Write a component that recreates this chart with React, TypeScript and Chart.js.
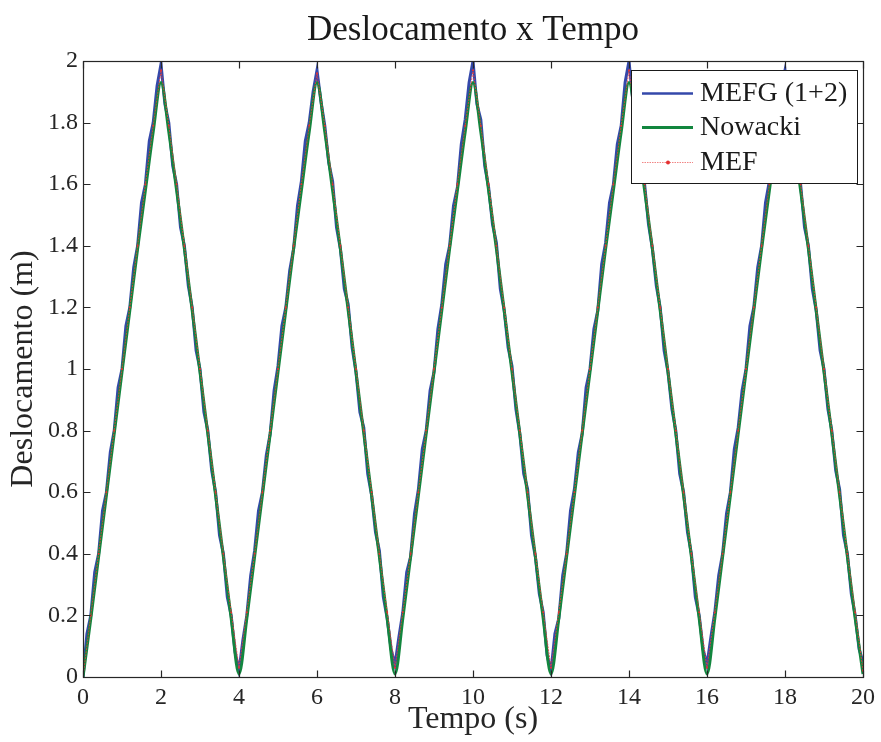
import { useEffect, useRef } from 'react';
import { Chart, registerables } from 'chart.js';

Chart.register(...registerables);

const TITLE = 'Deslocamento x Tempo';
const X_LABEL = 'Tempo (s)';
const Y_LABEL = 'Deslocamento (m)';
const X_TICKS = [0, 2, 4, 6, 8, 10, 12, 14, 16, 18, 20];
const Y_TICKS = [0, 0.2, 0.4, 0.6, 0.8, 1, 1.2, 1.4, 1.6, 1.8, 2];
const SERIES_NAMES = ['MEFG (1+2)', 'Nowacki', 'MEF'];

// MEFG (1+2): sampled every 0.1 s
const MEFG_STEP = 0.1;
const MEFG = [
  0.00,
  0.14, 0.20, 0.34, 0.40, 0.54, 0.60, 0.73, 0.80, 0.94, 1.00, 1.14, 1.20, 1.33, 1.40, 1.54, 1.60, 1.74, 1.80, 1.92, 1.99,
  1.86, 1.80, 1.66, 1.60, 1.46, 1.40, 1.27, 1.20, 1.06, 1.00, 0.86, 0.80, 0.67, 0.60, 0.46, 0.40, 0.26, 0.20, 0.08, 0.02,
  0.12, 0.20, 0.33, 0.41, 0.54, 0.60, 0.72, 0.79, 0.93, 1.01, 1.14, 1.20, 1.32, 1.39, 1.53, 1.61, 1.74, 1.80, 1.90, 1.97,
  1.87, 1.79, 1.67, 1.61, 1.46, 1.39, 1.26, 1.21, 1.07, 0.99, 0.86, 0.81, 0.66, 0.59, 0.47, 0.41, 0.26, 0.19, 0.09, 0.04,
  0.13, 0.21, 0.34, 0.39, 0.53, 0.61, 0.74, 0.80, 0.93, 0.99, 1.13, 1.21, 1.34, 1.40, 1.53, 1.59, 1.73, 1.81, 1.93, 2.00,
  1.86, 1.81, 1.66, 1.59, 1.47, 1.41, 1.26, 1.19, 1.07, 1.01, 0.87, 0.79, 0.66, 0.61, 0.46, 0.39, 0.27, 0.21, 0.07, 0.02,
  0.14, 0.19, 0.33, 0.40, 0.54, 0.61, 0.73, 0.79, 0.94, 1.00, 1.13, 1.19, 1.34, 1.41, 1.54, 1.60, 1.73, 1.79, 1.93, 2.00,
  1.87, 1.80, 1.66, 1.60, 1.47, 1.39, 1.27, 1.20, 1.06, 0.99, 0.87, 0.80, 0.66, 0.60, 0.47, 0.40, 0.26, 0.20, 0.09, 0.04,
  0.13, 0.21, 0.33, 0.40, 0.53, 0.60, 0.74, 0.81, 0.93, 1.00, 1.14, 1.20, 1.33, 1.40, 1.54, 1.61, 1.73, 1.80, 1.91, 1.97,
  1.86, 1.80, 1.67, 1.60, 1.46, 1.40, 1.26, 1.19, 1.06, 1.00, 0.87, 0.80, 0.67, 0.61, 0.46, 0.40, 0.27, 0.20, 0.09, 0.05,
];

// Nowacki: sampled every 0.2 s
const NOWACKI_STEP = 0.2;
const NOWACKI = [
  0.00,
  0.19, 0.39, 0.59, 0.79, 0.99, 1.19, 1.39, 1.58, 1.77, 1.93,
  1.77, 1.58, 1.39, 1.19, 0.99, 0.79, 0.59, 0.39, 0.19, 0.01,
  0.19, 0.39, 0.59, 0.79, 0.99, 1.19, 1.39, 1.58, 1.77, 1.93,
  1.77, 1.58, 1.39, 1.19, 0.99, 0.79, 0.59, 0.39, 0.19, 0.01,
  0.19, 0.39, 0.59, 0.79, 0.99, 1.19, 1.39, 1.58, 1.77, 1.93,
  1.77, 1.58, 1.39, 1.19, 0.99, 0.79, 0.59, 0.39, 0.19, 0.01,
  0.19, 0.39, 0.59, 0.79, 0.99, 1.19, 1.39, 1.58, 1.77, 1.93,
  1.77, 1.58, 1.39, 1.19, 0.99, 0.79, 0.59, 0.39, 0.19, 0.01,
  0.19, 0.39, 0.59, 0.79, 0.99, 1.19, 1.39, 1.58, 1.77, 1.93,
  1.77, 1.58, 1.39, 1.19, 0.99, 0.79, 0.59, 0.39, 0.19, 0.01,
];

// MEF: sampled every 0.2 s
const MEF_STEP = 0.2;
const MEF = [
  0.00,
  0.20, 0.40, 0.60, 0.80, 1.00, 1.20, 1.40, 1.60, 1.79, 1.97,
  1.79, 1.60, 1.40, 1.20, 1.00, 0.80, 0.60, 0.40, 0.21, 0.03,
  0.21, 0.40, 0.60, 0.80, 1.00, 1.20, 1.40, 1.60, 1.79, 1.96,
  1.79, 1.60, 1.40, 1.20, 1.00, 0.80, 0.60, 0.40, 0.21, 0.03,
  0.21, 0.40, 0.60, 0.80, 1.00, 1.20, 1.40, 1.60, 1.79, 1.97,
  1.79, 1.60, 1.40, 1.20, 1.00, 0.80, 0.60, 0.40, 0.21, 0.03,
  0.21, 0.40, 0.60, 0.80, 1.00, 1.20, 1.40, 1.60, 1.79, 1.97,
  1.79, 1.60, 1.40, 1.20, 1.00, 0.80, 0.60, 0.40, 0.21, 0.03,
  0.21, 0.40, 0.60, 0.80, 1.00, 1.20, 1.40, 1.60, 1.79, 1.96,
  1.79, 1.60, 1.40, 1.20, 1.00, 0.80, 0.60, 0.40, 0.21, 0.02,
];

const BLUE = 'rgb(52,72,170)';
const GREEN = 'rgb(18,134,62)';
const RED = 'rgb(228,48,48)';
const AXIS = '#262626';
const FONT = '"Liberation Serif", "Times New Roman", serif';

const toPoints = (vals: number[], step: number) =>
  vals.map((y, i) => ({ x: Math.round(i * step * 1000) / 1000, y }));

const fmt = (v: number) => String(Number(v.toFixed(1)));

const framePlugin = {
  id: 'matlabFrame',
  afterDatasetsDraw(chart: any) {
    const { ctx, chartArea: a, scales } = chart;
    const L = Math.round(a.left) + 0.5;
    const R = Math.round(a.right) + 0.5;
    const T = Math.round(a.top) + 0.5;
    const B = Math.round(a.bottom) + 0.5;
    ctx.save();
    ctx.strokeStyle = AXIS;
    ctx.lineWidth = 1.2;
    ctx.strokeRect(L, T, R - L, B - T);
    const tl = 7;
    ctx.beginPath();
    for (const v of X_TICKS) {
      const px = Math.round(scales.x.getPixelForValue(v)) + 0.5;
      ctx.moveTo(px, B); ctx.lineTo(px, B - tl);
      ctx.moveTo(px, T); ctx.lineTo(px, T + tl);
    }
    for (const v of Y_TICKS) {
      const py = Math.round(scales.y.getPixelForValue(v)) + 0.5;
      ctx.moveTo(L, py); ctx.lineTo(L + tl, py);
      ctx.moveTo(R, py); ctx.lineTo(R - tl, py);
    }
    ctx.stroke();

    // legend (inside axes, top-right)
    const bx = 631.5, by = 70.5, bw = 226, bh = 113;
    ctx.fillStyle = '#ffffff';
    ctx.fillRect(bx, by, bw, bh);
    ctx.strokeStyle = '#1a1a1a';
    ctx.lineWidth = 1;
    ctx.strokeRect(bx, by, bw, bh);
    const rows = [93, 127, 162];
    const colors = [BLUE, GREEN, RED];
    ctx.font = `28px ${FONT}`;
    ctx.textBaseline = 'middle';
    ctx.textAlign = 'left';
    SERIES_NAMES.forEach((name, i) => {
      const y = rows[i] + 0.5;
      ctx.save();
      if (i === 2) {
        ctx.strokeStyle = 'rgba(240,120,120,0.9)';
        ctx.lineWidth = 1;
        ctx.setLineDash([1.5, 1]);
      } else {
        ctx.strokeStyle = colors[i];
        ctx.lineWidth = i === 1 ? 3 : 2.5;
      }
      ctx.beginPath();
      ctx.moveTo(642, y);
      ctx.lineTo(693, y);
      ctx.stroke();
      if (i === 2) {
        ctx.fillStyle = RED;
        ctx.beginPath();
        ctx.arc(668, y, 2, 0, Math.PI * 2);
        ctx.fill();
      }
      ctx.restore();
      ctx.fillStyle = '#1a1a1a';
      ctx.fillText(name, 700, rows[i] + 1);
    });
    ctx.restore();
  },
  afterDraw(chart: any) {
    const { ctx, chartArea: a } = chart;
    ctx.save();
    ctx.fillStyle = '#1a1a1a';
    ctx.font = `35px ${FONT}`;
    ctx.textAlign = 'center';
    ctx.textBaseline = 'middle';
    ctx.fillText(TITLE, (a.left + a.right) / 2, 31);
    ctx.restore();
  },
};

export default function App() {
  const ref = useRef<HTMLCanvasElement | null>(null);

  useEffect(() => {
    if (!ref.current) return;
    const chart = new Chart(ref.current, {
      type: 'line',
      data: {
        datasets: [
          {
            label: SERIES_NAMES[0],
            data: toPoints(MEFG, MEFG_STEP),
            borderColor: BLUE,
            borderWidth: 3,
            pointRadius: 0,
            tension: 0,
            order: 3,
          },
          {
            label: SERIES_NAMES[1],
            data: toPoints(NOWACKI, NOWACKI_STEP),
            borderColor: GREEN,
            borderWidth: 3,
            pointRadius: 0,
            cubicInterpolationMode: 'monotone',
            order: 2,
          },
          {
            label: SERIES_NAMES[2],
            data: toPoints(MEF, MEF_STEP),
            borderColor: 'rgba(228,60,60,0.85)',
            borderWidth: 1,
            borderDash: [2, 1],
            pointRadius: 1,
            pointBackgroundColor: RED,
            pointBorderWidth: 0,
            tension: 0,
            order: 1,
          },
        ],
      } as any,
      options: {
        responsive: false,
        animation: false,
        devicePixelRatio: 1,
        layout: { padding: { top: 61, right: 17, left: 0, bottom: 0 } },
        plugins: {
          legend: { display: false },
          title: { display: false },
          tooltip: { enabled: false },
        },
        scales: {
          x: {
            type: 'linear',
            min: 0,
            max: 20,
            grid: { display: false, drawTicks: false },
            border: { display: false },
            afterBuildTicks: (s: any) => { s.ticks = X_TICKS.map((v) => ({ value: v })); },
            afterFit: (s: any) => { s.height = 65; },
            ticks: {
              padding: 6,
              color: AXIS,
              maxRotation: 0,
              autoSkip: false,
              font: { family: FONT, size: 24 },
              callback: (v: any) => fmt(Number(v)),
            },
            title: {
              display: true,
              text: X_LABEL,
              color: AXIS,
              font: { family: FONT, size: 32 },
              padding: { top: 0, bottom: 3 },
            },
          },
          y: {
            type: 'linear',
            min: 0,
            max: 2,
            grid: { display: false, drawTicks: false },
            border: { display: false },
            afterBuildTicks: (s: any) => { s.ticks = Y_TICKS.map((v) => ({ value: v })); },
            afterFit: (s: any) => { s.width = 83; },
            ticks: {
              padding: 5,
              color: AXIS,
              autoSkip: false,
              font: { family: FONT, size: 24 },
              callback: (v: any) => fmt(Number(v)),
            },
            title: {
              display: true,
              text: Y_LABEL,
              color: AXIS,
              font: { family: FONT, size: 32 },
              padding: { top: 4, bottom: 0 },
            },
          },
        },
      },
      plugins: [framePlugin],
    } as any);
    return () => chart.destroy();
  }, []);

  return (
    <div style={{ position: 'fixed', left: 0, top: 0, width: 881, height: 742, background: '#fff' }}>
      <canvas ref={ref} width={881} height={742} style={{ display: 'block', width: 881, height: 742 }} />
    </div>
  );
}
